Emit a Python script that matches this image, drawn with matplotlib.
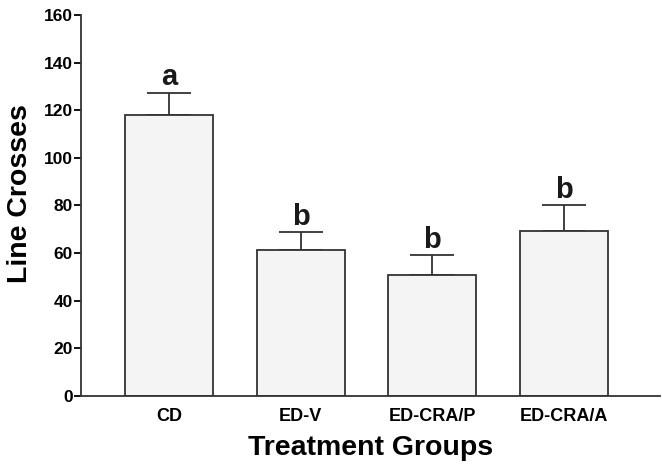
import numpy as np
import matplotlib
matplotlib.use("Agg")
from matplotlib import pyplot as plt

plt.rcParams['font.family'] = ['Liberation Sans', 'DejaVu Sans']

groups = ["CD", "ED-V", "ED-CRA/P", "ED-CRA/A"]
means = [118.2, 61.2, 50.7, 69.4]
sem = [9.2, 7.6, 8.5, 10.9]
letters = ["a", "b", "b", "b"]

fig = plt.figure(figsize=(6.62, 4.69), dpi=100)
ax = fig.add_axes([0.1224, 0.1557, 0.875, 0.8123])

x = np.arange(len(groups))
ax.bar(x, means, width=0.667, color="#f4f4f4", edgecolor="#333333",
       linewidth=1.3, zorder=2)
# upper error bars only
ax.errorbar(x, means, yerr=[np.zeros(len(sem)), sem], fmt="none",
            ecolor="#333333", elinewidth=1.3, capsize=15.8, capthick=1.3,
            zorder=1)
for xi, m, s, lab in zip(x, means, sem, letters):
    ax.text(xi, m + s + 3.0, lab, ha="center", va="baseline",
            fontsize=21, fontweight="bold", color="#1a1a1a")

ax.set_xlim(-0.667, 3.73)
ax.set_ylim(0, 160)
ax.set_yticks(np.arange(0, 161, 20))
ax.set_xticks(x)
ax.set_xticklabels(groups, fontsize=13, fontweight="bold")
ax.tick_params(axis="x", length=0, pad=8.5)
ax.tick_params(axis="y", length=5, width=1.3, labelsize=12.5, pad=1)
for t in ax.get_yticklabels():
    t.set_fontweight("bold")

for side in ["top", "right"]:
    ax.spines[side].set_visible(False)
for side in ["left", "bottom"]:
    ax.spines[side].set_linewidth(1.3)
    ax.spines[side].set_color("#333333")

ax.set_ylabel("Line Crosses", fontsize=20.5, fontweight="bold")
ax.yaxis.set_label_coords(-0.083, 0.531)
ax.set_xlabel("Treatment Groups", fontsize=20.5, fontweight="bold", labelpad=7)

fig.savefig("out.png", dpi=100)
